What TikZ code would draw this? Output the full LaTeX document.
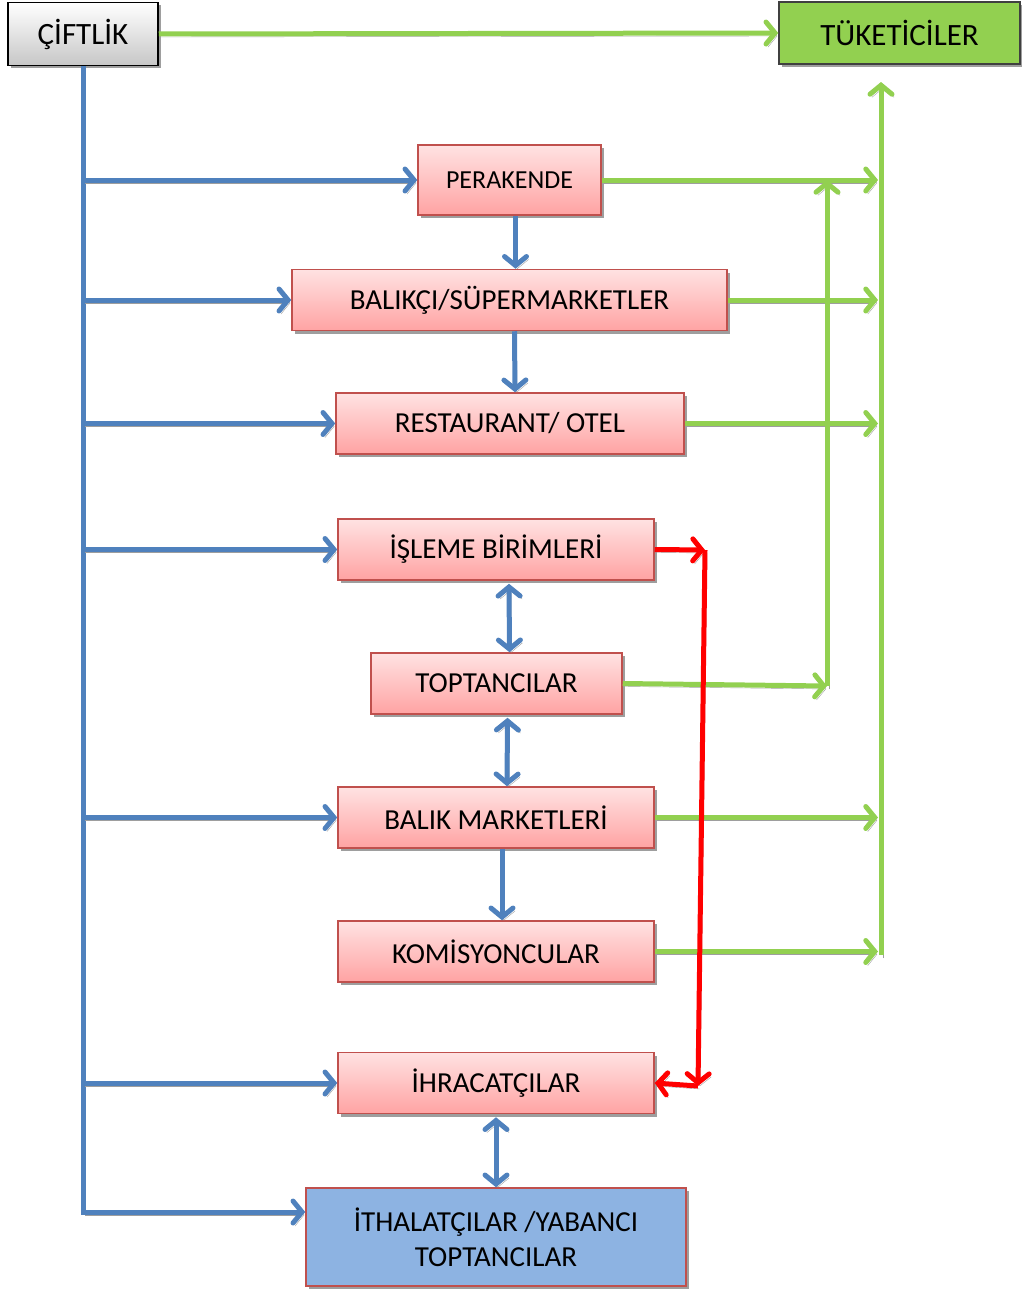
\documentclass[tikz,border=0pt]{standalone}
\usepackage{fontspec}
\setmainfont{Carlito}
\usepackage{tikz}
\usetikzlibrary{arrows.meta}
\usetikzlibrary{shadows}
\definecolor{lineblue}{HTML}{4F81BD}
\definecolor{linegreen}{HTML}{92D050}
\definecolor{boxred}{HTML}{C0504D}
\definecolor{pinktop}{HTML}{FFE2E2}
\definecolor{pinkbot}{HTML}{FFA3A3}
\definecolor{importblue}{HTML}{8DB3E2}
\definecolor{shade}{rgb}{0.62,0.62,0.62}

\tikzset{
  boxshadow/.style={drop shadow={shadow xshift=3pt,shadow yshift=-3pt,fill=shade,opacity=1}},
  box/.style={draw=boxred, line width=1.5pt, top color=pinktop, bottom color=pinkbot,
    minimum height=61, inner sep=0pt, boxshadow, font=\fontsize{29}{34}\selectfont},
  greybox/.style={draw=black, line width=1.5pt, top color=white, bottom color=black!22,
    inner sep=0pt, boxshadow, font=\fontsize{31}{36}\selectfont},
  greenbox/.style={draw=black!75, line width=1.5pt, fill=linegreen,
    inner sep=0pt, boxshadow, font=\fontsize{31}{36}\selectfont},
  bluebox/.style={draw=boxred, line width=1.5pt, fill=importblue, inner sep=0pt,
    boxshadow, font=\fontsize{29}{35}\selectfont},
  lineshadow/.style={preaction={draw=shade, transform canvas={shift={(2pt,-3pt)}}}},
  tip/.style={-{Straight Barb[length=9pt,width=22pt,line cap=round]}},
  twotip/.style={{Straight Barb[length=9pt,width=22pt,line cap=round]}-{Straight Barb[length=9pt,width=22pt,line cap=round]}},
  bluearr/.style={draw=lineblue, line width=5pt, tip, lineshadow},
  bluedbl/.style={draw=lineblue, line width=5pt, twotip, lineshadow},
  greenarr/.style={draw=linegreen, line width=5pt, tip, lineshadow},
  redarr/.style={draw=red, line width=5pt, tip, lineshadow},
}

\begin{document}
\begin{tikzpicture}[x=1pt,y=-1pt]
\useasboundingbox (0,0) rectangle (1022,1290);

% the boxes
\node[greybox, minimum width=150, minimum height=63] (ciftlik) at (83,34) {ÇİFTLİK};
\node[greenbox, minimum width=241, minimum height=62] (tuketici) at (899.5,33) {TÜKETİCİLER};
\node[box, minimum width=183, minimum height=70, font=\fontsize{26}{31}\selectfont] (perakende) at (509.5,180) {PERAKENDE};
\node[box, minimum width=435] (balikci) at (509.5,300) {BALIKÇI/SÜPERMARKETLER};
\node[box, minimum width=348] (restoran) at (510,423.5) {RESTAURANT/ OTEL};
\node[box, minimum width=316] (isleme) at (496,549.5) {İŞLEME BİRİMLERİ};
\node[box, minimum width=251] (toptanci) at (496.5,683.5) {TOPTANCILAR};
\node[box, minimum width=316] (balikmarket) at (496,817.5) {BALIK MARKETLERİ};
\node[box, minimum width=316] (komisyon) at (496,951.5) {KOMİSYONCULAR};
\node[box, minimum width=316] (ihracat) at (496,1083) {İHRACATÇILAR};
\node[bluebox, minimum width=380, minimum height=98, align=center] (ithalat) at (496,1237)
  {İTHALATÇILAR /YABANCI\\TOPTANCILAR};

% helper points
\coordinate (gtop) at (881,82);
\coordinate (gbot) at (881,955);
\coordinate (gmid) at (827,686);
\coordinate (rtop) at (705,550);
\coordinate (rbot) at (698,1086);

% blue: from the farm
\draw[bluearr] (ciftlik.south) |- ([yshift=25]ithalat.west);
\foreach \n in {perakende,balikci,restoran,isleme,balikmarket,ihracat} {
  \draw[bluearr] (ciftlik.south |- \n.west) -- (\n.west);
}
\draw[bluearr] ([xshift=6]perakende.south) -- ([xshift=6]balikci.north);
\draw[bluearr] ([xshift=5]balikci.south) -- ([xshift=5]restoran.north);
\draw[bluedbl] ([xshift=13,yshift=-3]isleme.south) -- ([xshift=13]toptanci.north);
\draw[bluedbl] ([xshift=11,yshift=-3]toptanci.south) -- ([xshift=11]balikmarket.north);
\draw[bluearr] ([xshift=6]balikmarket.south) -- ([xshift=6]komisyon.north);
\draw[bluedbl] ([yshift=-3]ihracat.south) -- (ithalat.north);

% green: to the consumers
\draw[greenarr] (ciftlik.east) -- (tuketici.west);
\draw[greenarr] (gbot) -- (gtop);
\foreach \n in {perakende,balikci,restoran,balikmarket,komisyon} {
  \draw[greenarr, shorten >=3pt] (\n.east) -- (\n.east -| gtop);
}
\draw[greenarr] (toptanci.east) -- (gmid);
\draw[greenarr] (gmid) -- (gmid |- perakende.east);

% red: processing to export
\draw[redarr] (isleme.east) -- (rtop);
\draw[redarr] (rtop) -- (rbot);
\draw[redarr] (rbot) -- (ihracat.east);

\end{tikzpicture}
\end{document}
